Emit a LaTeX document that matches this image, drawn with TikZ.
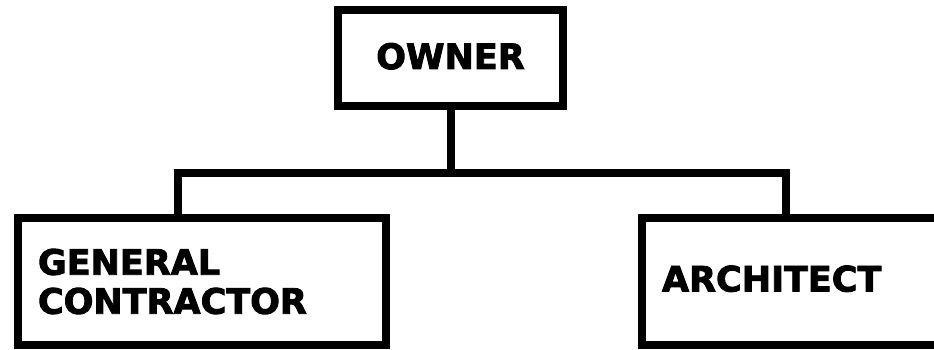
\documentclass[tikz,border=0pt]{standalone}
\usepackage{fontspec}
\setmainfont{DejaVu Sans}[BoldFeatures={FakeBold=2.5}]
\usetikzlibrary{positioning}

\tikzstyle{box} = [draw, line width=8pt, inner sep=0pt, inner xsep=20pt, font=\bfseries\fontsize{35}{39}\selectfont]
\tikzstyle{link} = [line width=8pt]

\begin{document}
\begin{tikzpicture}[x=1pt,y=1pt]
\useasboundingbox (0,0) rectangle (934,349);
\clip (0,0) rectangle (934,349);
%top
\node[box, minimum width=225pt, minimum height=96pt] (owner) at (450.5,291) {\raisebox{4pt}{OWNER}};
%left
\node[box, minimum height=127pt, text width=328pt, align=left] (contractor) at (202,67.5) {GENERAL\\CONTRACTOR};
%right
\node[box, minimum height=127pt, text width=278pt, align=left] (architect) at (801,67.5) {\raisebox{6pt}{ARCHITECT}};
%lines
\draw[link] (owner.south) -- ++(0,-63) coordinate (bus);
\draw[link] ([xshift=-24pt]contractor.north) |- (bus) -| ([xshift=-15pt]architect.north);
\end{tikzpicture}
\end{document}
